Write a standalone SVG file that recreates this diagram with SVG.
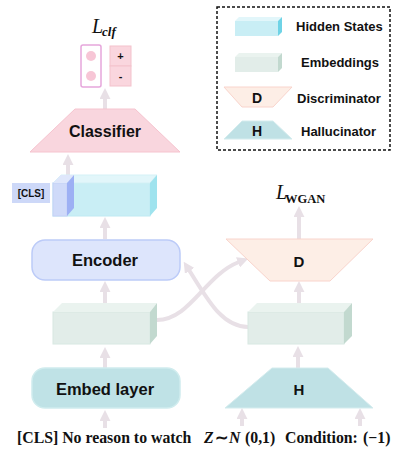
<svg xmlns="http://www.w3.org/2000/svg" width="409" height="450" viewBox="0 0 409 450">
<style>
.lbl{font-family:"Liberation Sans",Arial,sans-serif;font-weight:bold;fill:#111;text-anchor:middle}
.leg{font-family:"Liberation Sans",Arial,sans-serif;font-weight:bold;fill:#111;font-size:13px}
.arr{stroke:#e8e0e6;stroke-width:4;fill:none;marker-end:url(#ah)}
.ser{font-family:"Liberation Serif",serif;font-weight:bold;fill:#111;font-size:15.8px}
</style>
<defs>
<marker id="ah" viewBox="0 0 10 10" markerWidth="11" markerHeight="11" markerUnits="userSpaceOnUse" refX="1" refY="5" orient="auto">
<path d="M0,0 L10,5 L0,10 z" fill="#e8e0e6"/>
</marker>
</defs>
<rect width="409" height="450" fill="#fff"/>

<g id="connectors">
<line class="arr" x1="105" y1="109" x2="105" y2="98"/>
<line class="arr" x1="68" y1="175" x2="68" y2="164"/>
<line class="arr" x1="105" y1="239" x2="105" y2="227"/>
<line class="arr" x1="105" y1="303" x2="105" y2="291"/>
<line class="arr" x1="105" y1="368" x2="105" y2="357"/>
<line class="arr" x1="105" y1="428" x2="105" y2="420"/>
<line class="arr" x1="299" y1="239" x2="299" y2="216"/>
<line class="arr" x1="299" y1="303" x2="299" y2="291"/>
<line class="arr" x1="298" y1="368" x2="298" y2="356"/>
<line class="arr" x1="242" y1="426" x2="242" y2="418"/>
<line class="arr" x1="360" y1="426" x2="360" y2="418"/>
<path class="arr" d="M157,320 C190,320 205,275 239,262"/>
<path class="arr" d="M248,327 C222,327 208,300 189,270"/>
</g>

<g id="loss-clf">
<text x="92" y="33" font-family="Liberation Serif,serif" font-style="italic" font-size="20" fill="#111">L</text>
<text x="102" y="36" font-family="Liberation Serif,serif" font-style="italic" font-weight="bold" font-size="13" fill="#111">clf</text>
</g>

<g id="output">
<rect x="81" y="45" width="20" height="42" rx="2" fill="#fff" stroke="#e6a6dc" stroke-width="1.5"/>
<circle cx="91" cy="56" r="5" fill="#f7c6d6"/>
<circle cx="91" cy="76" r="5" fill="#f7c6d6"/>
<rect x="110" y="46" width="21" height="20" fill="#fad6de" stroke="#f3c2cc"/>
<rect x="110" y="66" width="21" height="20" fill="#fad6de" stroke="#f3c2cc"/>
<text class="lbl" x="120.5" y="60" font-size="11">+</text>
<text class="lbl" x="120.5" y="80" font-size="11">-</text>
</g>

<g id="classifier">
<polygon points="75,109 135,109 180,152 30,152" fill="#f9d6de" stroke="#f6c4cf"/>
<text class="lbl" x="105" y="137" font-size="16">Classifier</text>
</g>

<g id="cls-label">
<rect x="12" y="183" width="38" height="20" fill="#cdd8f8"/>
<text class="lbl" x="31" y="197" font-size="10">[CLS]</text>
</g>

<g id="hidden-states">
<rect x="53" y="183" width="97" height="33" fill="#c9eef5" stroke="#bfeaf2"/>
<polygon points="53,183 61,175 157,175 150,183" fill="#e2f6fa" stroke="#d4f1f6"/>
<polygon points="150,183 157,175 157,208 150,216" fill="#9fe3ee"/>
<rect x="53" y="183" width="14" height="33" fill="#cfdaf9" stroke="#c4d1f6"/>
<polygon points="53,183 61,175 74,175 67,183" fill="#dfe7fb"/>
<polygon points="67,183 74,175 74,208 67,216" fill="#9db0f4"/>
</g>

<g id="encoder">
<rect x="32" y="240" width="148" height="40" rx="13" fill="#dde5fc" stroke="#bccbf8" stroke-width="1.5"/>
<text class="lbl" x="105" y="266" font-size="16.5">Encoder</text>
</g>

<g id="embeddings-left">
<rect x="53" y="312" width="97" height="32" fill="#e2ede9" stroke="#d8e8e2"/>
<polygon points="53,312 62,303 157,303 150,312" fill="#eaf3ef"/>
<polygon points="150,312 157,303 157,336 150,344" fill="#c2d9cf"/>
</g>

<g id="embed-layer">
<rect x="32" y="368" width="148" height="40" rx="13" fill="#bfe2e6" stroke="#d0ecee" stroke-width="1.5"/>
<text class="lbl" x="105" y="395" font-size="16.5">Embed layer</text>
</g>

<g id="loss-wgan">
<text x="276" y="199" font-family="Liberation Serif,serif" font-style="italic" font-size="20" fill="#111">L</text>
<text x="285" y="203" font-family="Liberation Serif,serif" font-weight="bold" font-size="12.5" fill="#111">WGAN</text>
</g>

<g id="discriminator">
<polygon points="226,239 373,239 330,281 270,281" fill="#fdeee6" stroke="#f9d4cc"/>
<text class="lbl" x="299" y="267" font-size="15">D</text>
</g>

<g id="embeddings-right">
<rect x="248" y="312" width="96" height="32" fill="#e2ede9" stroke="#d8e8e2"/>
<polygon points="248,312 257,303 352,303 344,312" fill="#eaf3ef"/>
<polygon points="344,312 352,303 352,336 344,344" fill="#c2d9cf"/>
</g>

<g id="hallucinator">
<polygon points="272,368 328,368 373,408 225,408" fill="#bfe1e5" stroke="#d4ecee"/>
<text class="lbl" x="299" y="395" font-size="15">H</text>
</g>

<g id="inputs">
<text class="ser" x="17" y="443">[CLS] No reason to watch</text>
<text class="ser" y="443"><tspan x="204" font-style="italic">Z</tspan><tspan x="215">∼</tspan><tspan x="229" font-style="italic">N</tspan><tspan x="245">(0,1)</tspan></text>
<text class="ser" y="443"><tspan x="285">Condition:</tspan><tspan x="363">(−1)</tspan></text>
</g>

<g id="legend">
<rect x="217" y="7" width="173" height="143" fill="none" stroke="#111" stroke-width="1.5" stroke-dasharray="3,2"/>
<rect x="235" y="21" width="43" height="15" fill="#c9eef5"/>
<polygon points="235,21 239,17 282,17 278,21" fill="#e2f6fa"/>
<polygon points="278,21 282,17 282,32 278,36" fill="#6fd3e6"/>
<text class="leg" x="296" y="31">Hidden States</text>
<rect x="235" y="57" width="43" height="15" fill="#e2ede9"/>
<polygon points="235,57 239,53 282,53 278,57" fill="#eaf3ef"/>
<polygon points="278,57 282,53 282,68 278,72" fill="#c2d9cf"/>
<text class="leg" x="301" y="67">Embeddings</text>
<polygon points="224,87 292,87 273,107 242,107" fill="#fdeee6" stroke="#f9d4cc"/>
<text class="lbl" x="257" y="103" font-size="14">D</text>
<text class="leg" x="297" y="103">Discriminator</text>
<polygon points="242,121 273,121 292,139 224,139" fill="#bfe1e5" stroke="#d4ecee"/>
<text class="lbl" x="257" y="136" font-size="14">H</text>
<text class="leg" x="301" y="136">Hallucinator</text>
</g>
</svg>
